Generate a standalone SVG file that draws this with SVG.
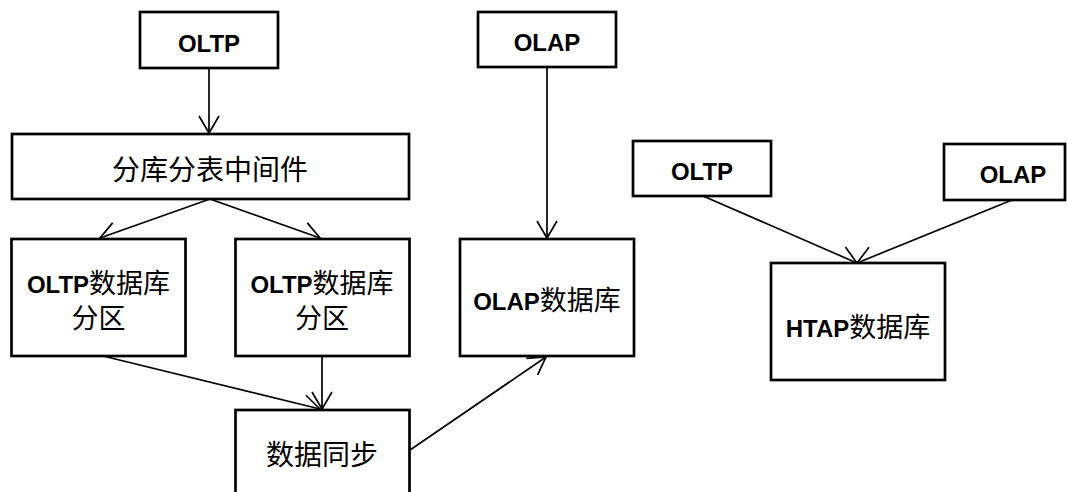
<svg xmlns="http://www.w3.org/2000/svg" width="1067" height="492" viewBox="0 0 1067 492">
<style>
.box{fill:#fff;stroke:#000;stroke-width:2.7}
.t{font-family:"Liberation Sans","Noto Sans CJK SC",sans-serif;fill:#000;text-anchor:middle}
.lat{font-weight:bold;font-size:24px}
.cjk{font-weight:normal;font-size:27px}
.conn line{stroke:#000;stroke-width:1.7;marker-end:url(#arr)}
</style>
<defs>
<marker id="arr" markerUnits="userSpaceOnUse" viewBox="0 0 20 22" markerWidth="20" markerHeight="22" refX="18" refY="11" orient="auto">
<path d="M1,1 L18,11 L1,21" fill="none" stroke="#000" stroke-width="1.7"/>
</marker>
</defs>
<rect width="1067" height="492" fill="#fff"/>
<g class="conn" id="connectors">
<line x1="209" y1="68" x2="209" y2="133"/>
<line x1="210" y1="199" x2="100" y2="238"/>
<line x1="210" y1="199" x2="320" y2="238"/>
<line x1="103" y1="356" x2="320" y2="409"/>
<line x1="322" y1="356" x2="322" y2="409"/>
<line x1="410" y1="450" x2="546" y2="357"/>
<line x1="547" y1="67" x2="547" y2="238"/>
<line x1="703" y1="196" x2="857" y2="263"/>
<line x1="1012" y1="200" x2="857" y2="263"/>
</g>
<g id="oltp-top">
<rect class="box" x="140" y="12" width="138" height="56"/>
<text class="t lat" x="209" y="52">OLTP</text>
</g>
<g id="olap-top">
<rect class="box" x="478" y="12" width="138" height="55"/>
<text class="t lat" x="547" y="51">OLAP</text>
</g>
<g id="middleware">
<rect class="box" x="12" y="134" width="397" height="65"/>
<text class="t" x="210" y="180" font-size="28">分库分表中间件</text>
</g>
<g id="oltp-part1">
<rect class="box" x="11.5" y="239" width="174" height="117"/>
<text class="t" x="98.5" y="293"><tspan class="lat">OLTP</tspan><tspan class="cjk">数据库</tspan></text>
<text class="t cjk" x="98.5" y="328">分区</text>
</g>
<g id="oltp-part2">
<rect class="box" x="235.5" y="239" width="174" height="117"/>
<text class="t" x="322" y="293"><tspan class="lat">OLTP</tspan><tspan class="cjk">数据库</tspan></text>
<text class="t cjk" x="322" y="328">分区</text>
</g>
<g id="olap-db">
<rect class="box" x="460" y="239" width="174" height="117"/>
<text class="t" x="547" y="310"><tspan class="lat">OLAP</tspan><tspan class="cjk">数据库</tspan></text>
</g>
<g id="data-sync">
<rect class="box" x="235.5" y="410" width="174" height="100"/>
<text class="t" x="322" y="465" font-size="28">数据同步</text>
</g>
<g id="oltp-right">
<rect class="box" x="633" y="141" width="138" height="55"/>
<text class="t lat" x="702" y="180">OLTP</text>
</g>
<g id="olap-right">
<rect class="box" x="944" y="144" width="121" height="56"/>
<text class="t lat" x="1013" y="183">OLAP</text>
</g>
<g id="htap-db">
<rect class="box" x="771" y="263" width="174" height="117"/>
<text class="t" x="858" y="337"><tspan class="lat">HTAP</tspan><tspan class="cjk">数据库</tspan></text>
</g>
</svg>
